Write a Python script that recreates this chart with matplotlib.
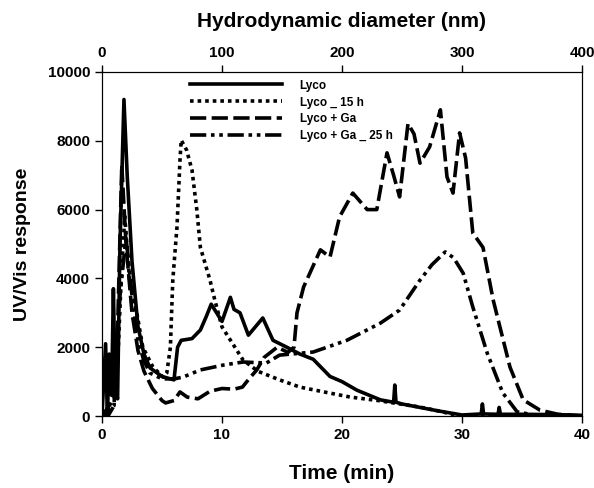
import numpy as np
import matplotlib.pyplot as plt

plt.rcParams['font.family'] = ['Liberation Sans', 'DejaVu Sans']
plt.rcParams['font.weight'] = 'bold'

# Lyco (solid)
lyco_t = [0, 0.3, 0.45, 0.6, 0.8, 0.95, 1.1, 1.3, 1.5, 1.83, 2.1, 2.5, 3.0, 3.5, 4.0, 5.0, 6.0,
          6.3, 6.6, 7.5, 8.2, 8.7, 9.1, 10.0, 10.7, 11.0, 11.5, 12.2, 13.4, 14.25, 15.4, 16.5,
          17.6, 19.0, 20.0, 21.25, 23.2, 24.3, 24.4, 24.5, 25, 26.5, 28, 30, 31.6, 31.7, 31.8,
          33.0, 33.1, 33.2, 35, 38, 40]
lyco_y = [0, 2100, 0, 1800, 600, 3700, 800, 500, 5000, 9200, 7000, 4500, 2600, 1800, 1400, 1150, 1050,
          2000, 2200, 2250, 2500, 2900, 3250, 2750, 3450, 3100, 3000, 2350, 2850, 2200, 2000, 1800,
          1650, 1150, 1000, 750, 470, 400, 900, 400, 350, 250, 150, 30, 60, 350, 60,
          50, 250, 50, 50, 40, 20]

# Lyco _ 15 h (dotted)
l15_t = [0, 1.0, 1.3, 1.6, 1.9, 2.3, 2.9, 3.4, 4.25, 5.1, 5.4, 5.7, 5.8, 5.9, 6.25, 6.5, 6.6,
         7.05, 7.5, 7.9, 8.2, 9.0, 9.4, 10.0, 11.75, 13.0, 14.8, 16.5, 18.5, 20.7, 23, 26.5, 28, 29.8, 40]
l15_y = [0, 300, 1500, 4000, 5800, 3950, 3000, 2000, 1420, 1130, 1250, 2000, 3000, 3950, 5500, 7440, 8020,
         7730, 7150, 6000, 4900, 3950, 3370, 2590, 1630, 1300, 1050, 840, 700, 550, 450, 260, 150, 0, 0]

# Lyco + Ga (dashed)
ga_t = [0, 0.5, 1.0, 1.3, 1.65, 2.0, 2.5, 3.0, 3.5, 4.2, 5.0, 5.3, 6.0, 6.5, 7.1, 8.0, 9.0, 10.0,
        11.0, 11.7, 12.3, 12.9, 13.5, 14.6, 15.5, 16.0, 16.25, 16.8, 18.2, 19.0, 19.8, 20.9, 22.1,
        22.9, 23.75, 24.3, 24.8, 25.5, 26.0, 26.5, 27.3, 28.2, 28.75, 29.25, 29.8, 30.3, 30.9, 31.75,
        32.6, 34.0, 35.1, 36.5, 38, 40]
ga_y = [0, 0, 300, 2500, 7300, 5000, 3000, 1900, 1300, 800, 450, 380, 450, 700, 550, 500, 720, 800,
        780, 840, 1100, 1340, 1700, 2000, 1850, 2000, 3000, 3750, 4830, 4620, 5790, 6480, 6000,
        6000, 7650, 7000, 6370, 8500, 8200, 7350, 7820, 8900, 6950, 6480, 8230, 7500, 5320, 4900,
        3370, 1420, 470, 170, 50, 0]

# Lyco + Ga _ 25 h (dash-dot-dot)
ga25_t = [0, 1.0, 1.5, 2.0, 2.5, 3.0, 3.5, 4.0, 5.0, 6.0, 6.75, 8.2, 10.1, 11.75, 13.7, 14.8, 17.6,
          20.4, 23.2, 24.8, 26.5, 27.5, 28.6, 29.3, 30.1, 30.9, 32.1, 33.4, 34.6, 36, 40]
ga25_y = [0, 500, 3500, 5200, 3500, 2200, 1600, 1250, 1080, 1080, 1130, 1340, 1480, 1570, 1540, 1770, 1860,
          2200, 2700, 3080, 3950, 4400, 4770, 4600, 4150, 3170, 1830, 670, 120, 30, 0]

fig = plt.figure(figsize=(5.94, 4.88), dpi=100)
ax = fig.add_axes([0.1717, 0.1475, 0.8081, 0.705])

lw = 2.6
ax.plot(lyco_t, lyco_y, color='black', lw=lw, ls='-', label='Lyco')
ax.plot(l15_t, l15_y, color='black', lw=lw, ls=(0, (1, 1.1)), label='Lyco _ 15 h')
ax.plot(ga_t, ga_y, color='black', lw=lw, ls=(0, (4.5, 1.5)), label='Lyco + Ga')
ax.plot(ga25_t, ga25_y, color='black', lw=lw, ls=(0, (4.5, 1.3, 1, 1.3, 1, 1.3)),
        label='Lyco + Ga _ 25 h')

ax.set_xlim(0, 40)
ax.set_ylim(0, 10000)
ax.set_xticks([0, 10, 20, 30, 40])
ax.set_yticks([0, 2000, 4000, 6000, 8000, 10000])
ax.tick_params(direction='out', length=5, width=1, labelsize=11)
ax.set_xlabel('Time (min)', fontsize=15, fontweight='bold', labelpad=16)
ax.set_ylabel('UV/Vis response', fontsize=14, fontweight='bold', labelpad=12)

ax2 = ax.twiny()
ax2.set_xlim(0, 400)
ax2.set_xticks([0, 100, 200, 300, 400])
ax2.tick_params(direction='out', length=5, width=1, labelsize=11)
ax2.set_xlabel('Hydrodynamic diameter (nm)', fontsize=15, fontweight='bold', labelpad=14)

ax.legend(loc='upper left', bbox_to_anchor=(0.183, 0.978), frameon=False,
          handlelength=7.8, handletextpad=1.5, labelspacing=0.42,
          prop={'size': 8.5, 'weight': 'bold'}, borderpad=0, borderaxespad=0)

fig.savefig('out.png', dpi=100)
